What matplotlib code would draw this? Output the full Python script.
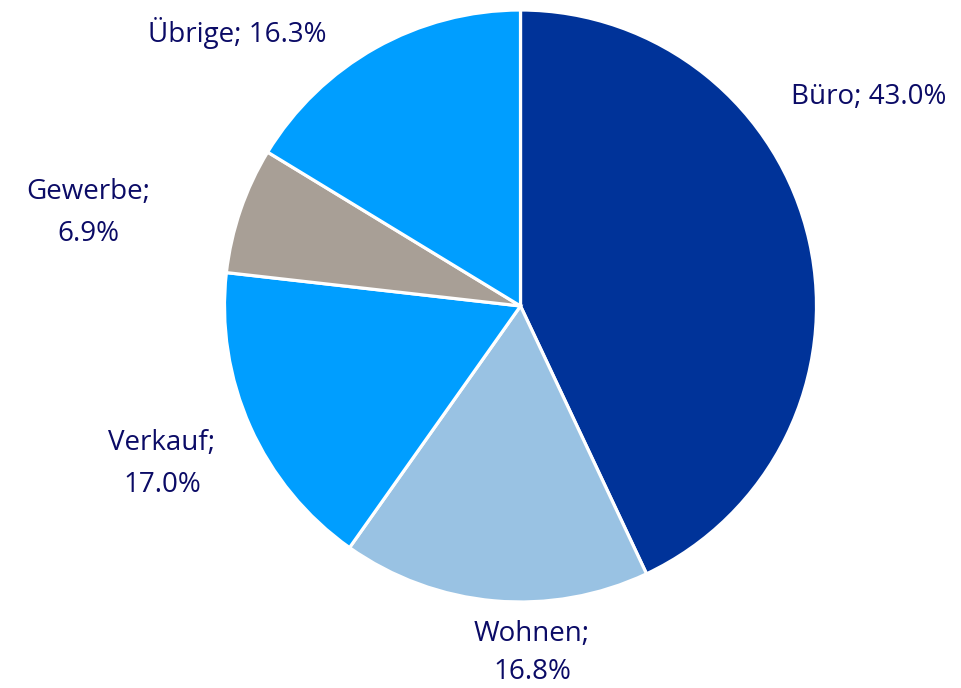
import matplotlib
matplotlib.use("Agg")
import matplotlib.pyplot as plt

categories = ["Büro", "Wohnen", "Verkauf", "Gewerbe", "Übrige"]
values = [43.0, 16.8, 17.0, 6.9, 16.3]
colors = ["#003399", "#99c2e3", "#009eff", "#a89f96", "#009eff"]
label_texts = ["Büro; 43.0%", "Wohnen;\n16.8%", "Verkauf;\n17.0%", "Gewerbe;\n6.9%", "Übrige; 16.3%"]
label_pos = [(869, 97), (532, 653), (162, 464), (88, 213), (237, 33)]
label_spacing = [1.7, 1.5, 1.7, 1.7, 1.7]

W, H = 962, 688
fig = plt.figure(figsize=(W / 100, H / 100), dpi=100)
ax = fig.add_axes([0, 0, 1, 1])

ax.pie(values, colors=colors, startangle=90, counterclock=False,
       center=(520.5, H - 306), radius=296,
       wedgeprops=dict(edgecolor="white", linewidth=2.3), frame=True)
ax.set_xlim(0, W)
ax.set_ylim(0, H)
ax.set_aspect("equal")
ax.axis("off")

for txt, (x, y), ls in zip(label_texts, label_pos, label_spacing):
    ax.text(x, H - y, txt, ha="center", va="center", fontsize=20,
            color="#0b0b66", family="Open Sans", linespacing=ls)

fig.savefig("out.png", dpi=100)
